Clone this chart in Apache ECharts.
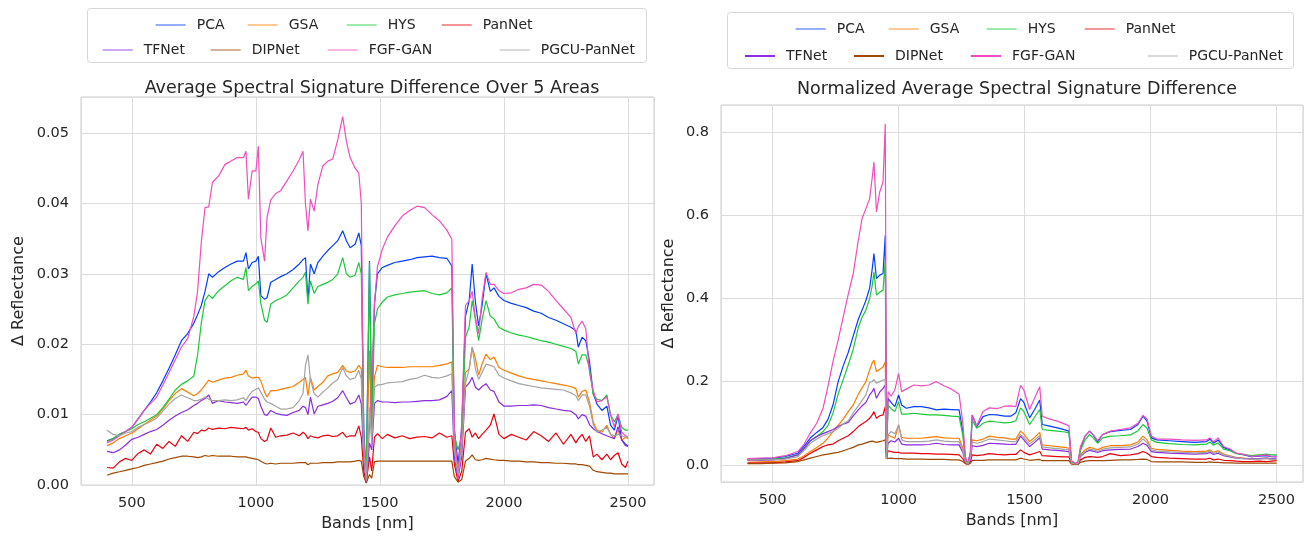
<!DOCTYPE html>
<html>
<head>
<meta charset="utf-8">
<script src="https://cdn.jsdelivr.net/npm/echarts@6/dist/echarts.min.js"></script>
<style>html,body{margin:0;padding:0;background:#fff;}#c{width:1312px;height:537px;}</style>
</head>
<body>
<div id="c"></div>
<script>
// ---------- Left chart: Average Spectral Signature Difference Over 5 Areas ----------
const bandsL = [400,425,450,475,500,525,550,575,600,625,
650,675,700,725,750,765,780,795,810,825,
850,875,900,925,950,960,970,985,1000,1010,
1020,1035,1045,1060,1080,1100,1125,1150,1175,1190,
1200,1210,1220,1235,1250,1270,1290,1310,1330,1350,
1365,1380,1400,1415,1425,1435,1445,1458,1467,1478,
1490,1510,1530,1560,1590,1620,1650,1680,1710,1740,
1770,1790,1800,1815,1830,1845,1860,1872,1885,1898,
1912,1928,1945,1960,1980,2000,2030,2060,2090,2120,
2150,2180,2210,2240,2270,2290,2300,2315,2330,2345,
2360,2375,2395,2415,2430,2445,2460,2475,2490,2500];

const pcaL = [.0063,.0066,.0072,.0076,.0082,.0094,.0106,.0118,.0131,.0148,
.0166,.0185,.0205,.0215,.0230,.0242,.0255,.0275,.0300,.0295,
.0303,.0309,.0314,.0318,.0318,.0330,.0307,.0316,.0318,.0325,
.0269,.0264,.0266,.0288,.0292,.0296,.0300,.0306,.0314,.0320,
.0323,.0262,.0314,.0300,.0316,.0325,.0333,.0340,.0347,.0361,
.0347,.0337,.0342,.0358,.0340,.0080,.0010,.0318,.0100,.0257,
.0300,.0309,.0312,.0316,.0318,.0320,.0323,.0324,.0325,.0323,
.0322,.0311,.0080,.0030,.0080,.0240,.0262,.0314,.0260,.0226,
.0255,.0300,.0275,.0280,.0268,.0262,.0258,.0255,.0252,.0247,
.0244,.0238,.0234,.0229,.0224,.0219,.0196,.0210,.0205,.0175,
.0130,.0115,.0106,.0112,.0085,.0078,.0098,.0064,.0058,.0056];

const gsaL = [.0056,.0060,.0066,.0070,.0074,.0080,.0086,.0092,.0098,.0108,
.0120,.0130,.0137,.0132,.0127,.0130,.0135,.0142,.0149,.0146,
.0149,.0152,.0153,.0156,.0158,.0163,.0155,.0152,.0153,.0153,
.0148,.0132,.0125,.0134,.0134,.0136,.0138,.0140,.0146,.0150,
.0153,.0127,.0153,.0135,.0140,.0146,.0155,.0158,.0160,.0170,
.0162,.0160,.0162,.0170,.0165,.0050,.0010,.0191,.0070,.0153,
.0170,.0168,.0167,.0167,.0167,.0168,.0168,.0168,.0168,.0170,
.0172,.0175,.0060,.0020,.0060,.0160,.0165,.0196,.0180,.0156,
.0172,.0186,.0178,.0182,.0167,.0163,.0159,.0155,.0152,.0150,
.0148,.0146,.0144,.0142,.0140,.0137,.0125,.0133,.0135,.0118,
.0090,.0078,.0075,.0085,.0072,.0066,.0078,.0064,.0068,.0066];

const hysL = [.0062,.0066,.0072,.0076,.0080,.0086,.0090,.0095,.0100,.0110,
.0122,.0135,.0143,.0148,.0155,.0185,.0230,.0262,.0270,.0265,
.0276,.0283,.0290,.0295,.0292,.0309,.0276,.0282,.0286,.0290,
.0258,.0234,.0231,.0257,.0262,.0265,.0270,.0280,.0290,.0295,
.0302,.0257,.0290,.0272,.0282,.0285,.0288,.0292,.0300,.0323,
.0300,.0295,.0298,.0316,.0300,.0070,.0010,.0316,.0080,.0229,
.0250,.0260,.0267,.0270,.0272,.0274,.0275,.0276,.0272,.0270,
.0273,.0280,.0070,.0050,.0070,.0210,.0225,.0262,.0235,.0205,
.0235,.0262,.0240,.0236,.0224,.0220,.0216,.0213,.0211,.0208,
.0205,.0203,.0200,.0197,.0194,.0190,.0172,.0185,.0185,.0165,
.0128,.0122,.0120,.0128,.0100,.0090,.0100,.0082,.0078,.0078];

const pannetL = [.0025,.0024,.0033,.0038,.0035,.0045,.0050,.0044,.0058,.0052,
.0062,.0055,.0070,.0062,.0075,.0073,.0078,.0077,.0081,.0079,
.0081,.0080,.0082,.0081,.0080,.0082,.0078,.0080,.0076,.0075,
.0066,.0062,.0064,.0081,.0068,.0070,.0071,.0074,.0070,.0075,
.0072,.0066,.0070,.0068,.0067,.0070,.0071,.0069,.0070,.0075,
.0068,.0070,.0070,.0084,.0068,.0020,.0003,.0040,.0020,.0068,
.0073,.0066,.0072,.0067,.0070,.0066,.0068,.0069,.0067,.0074,
.0068,.0070,.0030,.0005,.0020,.0075,.0080,.0068,.0074,.0066,
.0072,.0078,.0085,.0101,.0072,.0066,.0072,.0068,.0064,.0076,
.0070,.0062,.0074,.0058,.0072,.0060,.0066,.0072,.0062,.0070,
.0040,.0044,.0036,.0044,.0036,.0042,.0046,.0030,.0025,.0034];

const tfnetL = [.0048,.0046,.0050,.0057,.0065,.0068,.0072,.0076,.0079,.0085,
.0092,.0098,.0103,.0107,.0113,.0116,.0120,.0123,.0128,.0116,
.0120,.0118,.0117,.0116,.0118,.0113,.0118,.0125,.0125,.0123,
.0112,.0100,.0099,.0106,.0102,.0100,.0099,.0103,.0106,.0112,
.0110,.0100,.0125,.0101,.0112,.0114,.0116,.0119,.0124,.0134,
.0124,.0115,.0118,.0128,.0115,.0040,.0005,.0060,.0050,.0116,
.0120,.0118,.0118,.0117,.0118,.0118,.0119,.0120,.0120,.0121,
.0126,.0134,.0040,.0010,.0040,.0139,.0145,.0153,.0139,.0135,
.0140,.0144,.0135,.0133,.0118,.0112,.0112,.0113,.0113,.0114,
.0113,.0110,.0108,.0106,.0105,.0100,.0094,.0100,.0098,.0086,
.0080,.0076,.0073,.0070,.0068,.0066,.0083,.0064,.0056,.0055];

const dipnetL = [.0014,.0017,.0019,.0021,.0023,.0025,.0028,.0030,.0032,.0034,
.0037,.0039,.0041,.0041,.0040,.0039,.0040,.0042,.0041,.0042,
.0041,.0041,.0041,.0040,.0040,.0040,.0039,.0038,.0037,.0036,
.0034,.0031,.0030,.0031,.0030,.0031,.0031,.0031,.0032,.0032,
.0032,.0029,.0031,.0031,.0031,.0032,.0032,.0032,.0033,.0033,
.0033,.0033,.0034,.0035,.0034,.0012,.0003,.0015,.0010,.0033,
.0034,.0034,.0034,.0034,.0034,.0034,.0034,.0034,.0034,.0034,
.0034,.0034,.0012,.0004,.0008,.0034,.0038,.0043,.0036,.0035,
.0036,.0038,.0037,.0036,.0035,.0035,.0034,.0034,.0033,.0033,
.0032,.0032,.0031,.0031,.0030,.0030,.0029,.0029,.0028,.0027,
.0021,.0019,.0018,.0017,.0017,.0016,.0016,.0016,.0016,.0016];

const fgfganL = [.0060,.0064,.0070,.0076,.0082,.0094,.0106,.0116,.0125,.0142,
.0160,.0178,.0196,.0208,.0240,.0275,.0345,.0394,.0395,.0430,
.0439,.0455,.0460,.0465,.0465,.0474,.0406,.0446,.0446,.0481,
.0351,.0318,.0380,.0405,.0414,.0418,.0432,.0446,.0462,.0474,
.0399,.0361,.0406,.0389,.0427,.0453,.0460,.0463,.0490,.0523,
.0488,.0465,.0450,.0443,.0400,.0060,.0005,.0080,.0150,.0257,
.0310,.0335,.0352,.0368,.0382,.0390,.0396,.0394,.0384,.0375,
.0362,.0349,.0080,.0008,.0090,.0255,.0262,.0275,.0238,.0215,
.0265,.0302,.0285,.0285,.0276,.0272,.0273,.0278,.0280,.0285,
.0284,.0275,.0262,.0250,.0238,.0215,.0225,.0233,.0222,.0160,
.0134,.0118,.0120,.0125,.0099,.0083,.0101,.0075,.0070,.0068];

const pgcuL = [.0078,.0072,.0070,.0074,.0076,.0082,.0086,.0090,.0095,.0105,
.0115,.0123,.0128,.0124,.0120,.0120,.0122,.0125,.0122,.0120,
.0120,.0121,.0120,.0121,.0124,.0120,.0126,.0133,.0136,.0138,
.0132,.0122,.0118,.0116,.0112,.0108,.0108,.0110,.0120,.0130,
.0170,.0185,.0150,.0130,.0125,.0132,.0138,.0145,.0150,.0167,
.0155,.0150,.0152,.0163,.0150,.0050,.0008,.0110,.0060,.0139,
.0142,.0143,.0145,.0146,.0147,.0150,.0152,.0156,.0153,.0152,
.0155,.0158,.0050,.0015,.0050,.0144,.0165,.0196,.0165,.0150,
.0160,.0172,.0170,.0168,.0156,.0152,.0148,.0144,.0142,.0140,
.0138,.0137,.0136,.0135,.0131,.0127,.0120,.0128,.0128,.0112,
.0086,.0075,.0078,.0082,.0072,.0070,.0072,.0070,.0068,.0068];

// ---------- Right chart: Normalized Average Spectral Signature Difference ----------
const bandsR = [400,450,500,550,600,625,650,675,700,720,
740,760,780,800,820,840,855,870,885,895,
902,912,925,938,947,952,958,970,985,1000,
1012,1030,1060,1090,1120,1150,1180,1210,1240,1255,
1265,1275,1285,1292,1310,1335,1360,1390,1420,1445,
1465,1484,1497,1520,1540,1560,1570,1600,1630,1660,
1676,1686,1700,1712,1722,1740,1758,1772,1790,1810,
1840,1880,1920,1950,1970,1986,2003,2025,2075,2125,
2175,2222,2236,2250,2268,2290,2315,2340,2370,2400,
2430,2460,2480,2500];

const pcaR = [.014,.015,.016,.020,.028,.045,.065,.078,.090,.110,
.145,.200,.238,.270,.310,.350,.372,.395,.425,.470,
.508,.448,.456,.460,.552,.015,.160,.150,.140,.168,
.144,.136,.140,.140,.137,.132,.134,.133,.132,.080,
.015,.003,.030,.120,.092,.116,.121,.120,.117,.117,
.125,.159,.150,.113,.133,.156,.097,.093,.089,.084,
.081,.010,.003,.005,.040,.069,.081,.072,.056,.073,
.080,.083,.085,.097,.117,.105,.065,.060,.058,.056,
.054,.056,.062,.052,.060,.042,.036,.028,.024,.020,
.021,.022,.020,.021];

const gsaR = [.010,.009,.008,.010,.014,.022,.032,.042,.052,.065,
.080,.095,.110,.128,.144,.170,.185,.200,.228,.245,
.252,.224,.230,.235,.248,.015,.072,.068,.064,.096,
.066,.064,.064,.064,.066,.068,.065,.064,.064,.040,
.008,.002,.015,.060,.058,.062,.069,.066,.065,.062,
.062,.081,.074,.056,.066,.078,.048,.046,.044,.042,
.040,.005,.002,.003,.025,.036,.042,.040,.036,.042,
.046,.046,.048,.055,.069,.060,.040,.037,.035,.033,
.032,.033,.036,.030,.034,.026,.022,.018,.016,.014,
.015,.016,.014,.014];

const hysR = [.013,.013,.014,.017,.024,.038,.058,.068,.080,.095,
.125,.170,.205,.240,.278,.330,.355,.372,.400,.430,
.464,.408,.415,.420,.488,.015,.144,.135,.128,.152,
.122,.122,.124,.122,.120,.120,.119,.117,.116,.070,
.012,.003,.025,.108,.088,.100,.105,.103,.101,.102,
.106,.137,.128,.097,.115,.133,.085,.083,.081,.079,
.077,.008,.003,.005,.035,.060,.073,.065,.052,.065,
.069,.070,.072,.082,.097,.088,.060,.054,.051,.049,
.048,.050,.055,.047,.053,.038,.034,.027,.025,.022,
.024,.026,.024,.024];

const pannetR = [.005,.005,.005,.007,.010,.018,.028,.036,.044,.048,
.050,.058,.064,.070,.080,.092,.098,.104,.112,.120,
.128,.112,.118,.120,.140,.015,.034,.032,.030,.030,
.028,.028,.028,.027,.027,.026,.026,.025,.024,.015,
.004,.001,.008,.024,.022,.024,.027,.025,.024,.025,
.025,.036,.030,.024,.028,.032,.022,.021,.020,.019,
.019,.003,.001,.002,.012,.018,.020,.019,.018,.020,
.027,.022,.024,.027,.032,.028,.020,.018,.016,.015,
.014,.014,.016,.012,.014,.011,.010,.009,.008,.008,
.009,.008,.009,.010];

const tfnetR = [.012,.011,.012,.015,.024,.040,.058,.068,.075,.080,
.085,.092,.098,.102,.118,.132,.142,.150,.168,.176,
.184,.160,.175,.184,.192,.015,.052,.058,.055,.064,
.050,.048,.048,.048,.049,.052,.049,.048,.048,.030,
.006,.002,.012,.046,.044,.047,.052,.051,.050,.049,
.049,.069,.060,.044,.054,.065,.038,.036,.035,.033,
.032,.004,.002,.003,.020,.030,.035,.033,.030,.034,
.036,.037,.038,.044,.052,.047,.032,.030,.028,.027,
.026,.027,.030,.025,.028,.022,.019,.016,.015,.015,
.015,.016,.015,.016];

const dipnetR = [.003,.003,.004,.005,.008,.012,.016,.020,.024,.026,
.028,.030,.034,.038,.042,.048,.050,.053,.056,.057,
.058,.054,.056,.058,.060,.015,.016,.016,.015,.015,
.015,.014,.014,.014,.013,.013,.013,.012,.012,.008,
.003,.001,.004,.011,.011,.011,.012,.012,.012,.012,
.012,.016,.014,.011,.012,.013,.010,.010,.010,.010,
.010,.002,.001,.001,.006,.009,.010,.010,.010,.010,
.011,.012,.012,.013,.014,.013,.008,.007,.007,.007,
.006,.006,.007,.006,.006,.005,.005,.004,.004,.004,
.004,.004,.004,.004];

const fgfganR = [.015,.016,.017,.022,.032,.050,.077,.100,.136,.190,
.250,.300,.355,.410,.460,.540,.592,.616,.640,.690,
.728,.608,.656,.680,.820,.015,.176,.165,.180,.220,
.176,.182,.192,.190,.192,.200,.190,.182,.170,.100,
.020,.004,.030,.120,.094,.128,.137,.135,.141,.142,
.140,.191,.180,.133,.161,.188,.117,.110,.105,.098,
.094,.010,.004,.006,.044,.069,.081,.072,.058,.073,
.081,.085,.089,.100,.119,.110,.069,.062,.062,.060,
.059,.060,.065,.055,.065,.044,.038,.028,.025,.020,
.022,.024,.020,.020];

const pgcuR = [.012,.012,.012,.014,.020,.035,.052,.062,.070,.075,
.080,.088,.098,.106,.125,.142,.155,.168,.198,.200,
.205,.196,.200,.204,.205,.015,.072,.080,.075,.096,
.060,.056,.056,.056,.057,.060,.057,.056,.056,.035,
.008,.002,.015,.055,.052,.056,.062,.060,.058,.056,
.056,.073,.066,.050,.060,.070,.043,.041,.039,.037,
.036,.004,.002,.003,.022,.032,.038,.036,.032,.038,
.041,.042,.043,.050,.062,.054,.036,.033,.031,.030,
.029,.030,.033,.028,.031,.024,.021,.017,.015,.014,
.014,.015,.014,.013];

const seriesNames = ['PCA','GSA','HYS','PanNet','TFNet','DIPNet','FGF-GAN','PGCU-PanNet'];
const colors = ['#023eff','#ff7c00','#1ac938','#e8000b','#8b2be2','#9f4800','#f14cc1','#a3a3a3'];
const leftValues = [pcaL, gsaL, hysL, pannetL, tfnetL, dipnetL, fgfganL, pgcuL];
const rightValues = [pcaR, gsaR, hysR, pannetR, tfnetR, dipnetR, fgfganR, pgcuR];
const titles = ['Average Spectral Signature Difference Over 5 Areas', 'Normalized Average Spectral Signature Difference'];
const xTicks = [500, 1000, 1500, 2000, 2500];

const FONT = 'DejaVu Sans';
const TXT = '#262626';

function pairs(b, v){ return b.map((x,i)=>[x, v[i]]); }

const series = [];
seriesNames.forEach((n,i)=>{
  series.push({name:n, type:'line', xAxisIndex:0, yAxisIndex:0, data:pairs(bandsL, leftValues[i]),
    symbol:'none', showSymbol:false, lineStyle:{width:1.2, color:colors[i]}, itemStyle:{color:colors[i]}, z:2+i});
  series.push({name:n, type:'line', xAxisIndex:1, yAxisIndex:1, data:pairs(bandsR, rightValues[i]),
    symbol:'none', showSymbol:false, lineStyle:{width:1.2, color:colors[i]}, itemStyle:{color:colors[i]}, z:2+i});
});

// single-item legends placed like the reference
const legPosL = [[150,13],[242,13],[341,13],[436,13],[97,38],[205,38],[322,38],[494,38]];
const legPosR = [[790,17],[883,17],[981,17],[1079,17],[739,44],[848,44],[965,44],[1142,44]];
const fadedL = [true,true,true,true,true,true,true,true];
const fadedR = [true,true,true,true,false,false,false,true];
const legends = [];
seriesNames.forEach((n,i)=>{
  [[legPosL,fadedL],[legPosR,fadedR]].forEach(([pos,fd])=>{
    legends.push({data:[{name:n, itemStyle:{opacity:0},
        lineStyle: fd[i] ? {opacity:0.6, width:1.4} : {opacity:1, width:2}}],
      left:pos[i][0], top:pos[i][1], itemWidth:30, itemHeight:14, selectedMode:false,
      textStyle:{fontFamily:FONT, fontSize:14, color:TXT, padding:[0,0,0,6]}});
  });
});

function xAxis(grid){
  return {type:'value', gridIndex:grid, min:295, max:2605,
    name:'Bands [nm]', nameLocation:'middle', nameGap: grid===0?25:27,
    nameTextStyle:{fontFamily:FONT, fontSize:16, color:TXT},
    axisLine:{show:false}, axisTick:{show:false},
    axisLabel:{fontFamily:FONT, fontSize:14.5, color:TXT, margin:11,
      formatter:v=> xTicks.indexOf(Math.round(v))>=0 && Math.abs(v-Math.round(v))<1e-6 ? String(Math.round(v)) : ''},
    splitLine:{show:true, lineStyle:{color:'#dcdcdc', width:1}}};
}

const chart = echarts.init(document.getElementById('c'), null, {renderer:'canvas'});
chart.setOption({
  animation:false,
  backgroundColor:'#ffffff',
  title:[
    {text:titles[0], left:367, top:74, textAlign:'center', textStyle:{fontFamily:FONT, fontSize:17.5, fontWeight:'normal', color:TXT}},
    {text:titles[1], left:1012, top:75, textAlign:'center', textStyle:{fontFamily:FONT, fontSize:17.5, fontWeight:'normal', color:TXT}}
  ],
  legend: legends,
  graphic:[
    {type:'rect', shape:{x:87.5, y:8.5, width:559, height:54, r:3}, style:{fill:'#fff', stroke:'#d6d6d6', lineWidth:1}, z:-1, silent:true},
    {type:'rect', shape:{x:727.5, y:12.5, width:566, height:56, r:3}, style:{fill:'#fff', stroke:'#d6d6d6', lineWidth:1}, z:-1, silent:true}
  ],
  grid:[
    {left:81, right:658, top:97, bottom:51, show:true, borderColor:'#cccccc', borderWidth:1, backgroundColor:'transparent'},
    {left:721, right:9, top:105, bottom:55, show:true, borderColor:'#cccccc', borderWidth:1, backgroundColor:'transparent'}
  ],
  xAxis:[xAxis(0), xAxis(1)],
  yAxis:[
    {type:'value', gridIndex:0, min:0, max:0.0551,
      name:'Δ Reflectance', nameLocation:'middle', nameGap:54, nameRotate:90,
      nameTextStyle:{fontFamily:FONT, fontSize:16, color:TXT},
      axisLine:{show:false}, axisTick:{show:false},
      axisLabel:{fontFamily:FONT, fontSize:14.5, color:TXT, margin:12,
        formatter:v=>{const k=v*100; return Math.abs(k-Math.round(k))<1e-6 && Math.round(k)<=5 ? v.toFixed(2) : '';}},
      splitLine:{show:true, lineStyle:{color:'#dcdcdc', width:1}}},
    {type:'value', gridIndex:1, min:-0.0412, max:0.865,
      name:'Δ Reflectance', nameLocation:'middle', nameGap:44, nameRotate:90,
      nameTextStyle:{fontFamily:FONT, fontSize:16, color:TXT},
      axisLine:{show:false}, axisTick:{show:false},
      axisLabel:{fontFamily:FONT, fontSize:14.5, color:TXT, margin:12,
        formatter:v=>{const k=v*5; return Math.abs(k-Math.round(k))<1e-6 && v>=-1e-9 ? v.toFixed(1) : '';}},
      splitLine:{show:true, lineStyle:{color:'#dcdcdc', width:1}}}
  ],
  series: series
});
</script>
</body>
</html>
